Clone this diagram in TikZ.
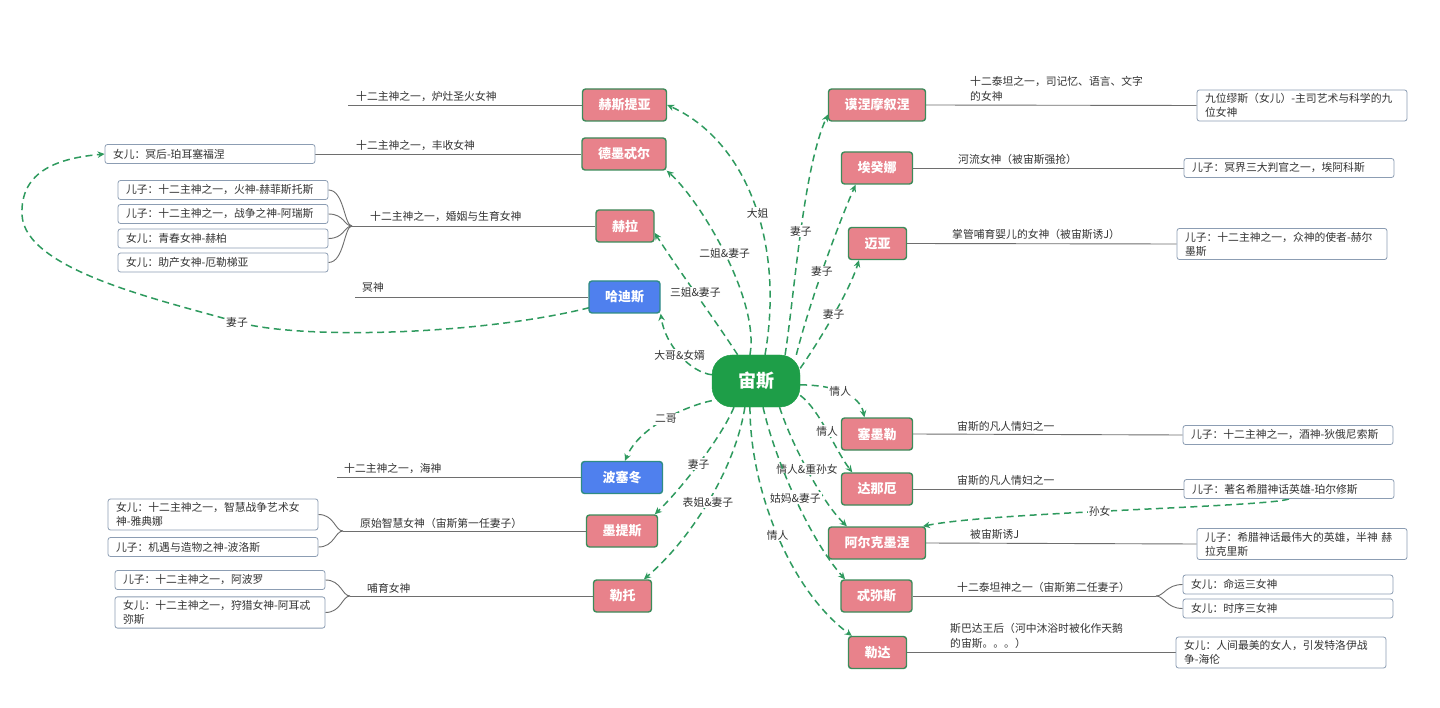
\documentclass[tikz,border=0pt]{standalone}
\usepackage{fontspec}
\setmainfont{Noto Sans CJK SC}
\usetikzlibrary{arrows.meta,calc,backgrounds}
\definecolor{pinkfill}{HTML}{E8828B}
\definecolor{boxgreen}{HTML}{3D8B5A}
\definecolor{bluefill}{HTML}{4F80EE}
\definecolor{blueborder}{HTML}{2F8C84}
\definecolor{zeusgreen}{HTML}{1E9E48}
\definecolor{arrowgreen}{HTML}{2E9A5E}
\definecolor{childborder}{HTML}{8C9DB3}
\definecolor{linegray}{HTML}{6E6E6E}
\definecolor{textgray}{HTML}{333333}
\tikzset{
 mainbox/.style={draw=boxgreen, line width=1.4pt, fill=pinkfill, rounded corners=3pt, minimum height=32pt, inner xsep=16pt, inner ysep=0pt, text=white, font=\bfseries\fontsize{13}{13}\selectfont},
 bluebox/.style={mainbox, fill=bluefill, draw=blueborder},
 zeusbox/.style={fill=zeusgreen, draw=zeusgreen, rounded corners=20pt, minimum width=88pt, minimum height=52pt, text=white, font=\bfseries\fontsize{18}{18}\selectfont},
 childbox/.style={draw=childborder, line width=0.8pt, fill=white, rounded corners=2.5pt, text width=194pt, inner xsep=8pt, inner ysep=3.5pt, minimum height=19pt, align=left, text=textgray, font=\fontsize{10.8}{14}\selectfont},
 desc/.style={inner sep=0pt, text=textgray, font=\fontsize{10.8}{15}\selectfont, align=left},
 lbl/.style={fill=white, inner sep=1pt, text=textgray, font=\fontsize{10.8}{12}\selectfont},
 rel/.style={draw=arrowgreen, line width=1.5pt, dash pattern=on 7pt off 4.5pt, -{Stealth[length=7pt,width=6.5pt]}},
 hline/.style={draw=linegray, line width=0.9pt},
}
\begin{document}
\begin{tikzpicture}[x=1pt,y=-1pt]
\useasboundingbox (0,0) rectangle (1440,708);
% ---------- main nodes
\node[zeusbox] (zeus) at (756,381) {宙斯};
\node[mainbox] (hestia) at (624.5,105) {赫斯提亚};
\node[mainbox] (demeter) at (624,154) {德墨忒尔};
\node[mainbox] (hera) at (625,226) {赫拉};
\node[bluebox] (hades) at (624.5,297) {哈迪斯};
\node[bluebox, minimum width=81pt] (poseidon) at (622,477.5) {波塞冬};
\node[mainbox] (metis) at (622,531) {墨提斯};
\node[mainbox] (leto) at (622.5,596) {勒托};
\node[mainbox] (mnemo) at (877,105) {谟涅摩叙涅};
\node[mainbox] (aegina) at (877,168) {埃癸娜};
\node[mainbox] (maia) at (877.5,243.5) {迈亚};
\node[mainbox] (semele) at (877,434) {塞墨勒};
\node[mainbox] (danae) at (877,489) {达那厄};
\node[mainbox] (alcmene) at (877,543) {阿尔克墨涅};
\node[mainbox] (themis) at (876.5,596) {忒弥斯};
\node[mainbox] (leda) at (877.5,652.5) {勒达};
% ---------- children (left)
\node[childbox] (persephone) at (210,154) {女儿：冥后-珀耳塞福涅};
\node[childbox] (heph) at (223,190) {儿子：十二主神之一，火神-赫菲斯托斯};
\node[childbox] (ares) at (223,214) {儿子：十二主神之一，战争之神-阿瑞斯};
\node[childbox] (hebe) at (223,238.5) {女儿：青春女神-赫柏};
\node[childbox] (eileithyia) at (223,262.5) {女儿：助产女神-厄勒梯亚};
\node[childbox] (athena) at (213,514.5) {女儿：十二主神之一，智慧战争艺术女\\神-雅典娜};
\node[childbox] (poros) at (213,547) {儿子：机遇与造物之神-波洛斯};
\node[childbox] (apollo) at (220,580) {儿子：十二主神之一，阿波罗};
\node[childbox] (artemis) at (220,612.5) {女儿：十二主神之一，狩猎女神-阿耳忒\\弥斯};
% ---------- children (right)
\node[childbox] (muses) at (1302,105.5) {九位缪斯（女儿）-主司艺术与科学的九\\位女神};
\node[childbox] (aeacus) at (1289,168) {儿子：冥界三大判官之一，埃阿科斯};
\node[childbox] (hermes) at (1282,244) {儿子：十二主神之一，众神的使者-赫尔\\墨斯};
\node[childbox] (dionysus) at (1288,435) {儿子：十二主神之一，酒神-狄俄尼索斯};
\node[childbox] (perseus) at (1289,489) {儿子：著名希腊神话英雄-珀尔修斯};
\node[childbox] (heracles) at (1302,544) {儿子：希腊神话最伟大的英雄，半神 赫\\拉克里斯};
\node[childbox] (moirai) at (1288,584.5) {女儿：命运三女神};
\node[childbox] (horae) at (1288,608.5) {女儿：时序三女神};
\node[childbox] (helen) at (1281,652.5) {女儿：人间最美的女人，引发特洛伊战\\争-海伦};
% ---------- descriptions
\node[desc, anchor=base west] (hestiaT) at (356,101) {十二主神之一，炉灶圣火女神};
\node[desc, anchor=base west] (demeterT) at (356,150) {十二主神之一，丰收女神};
\node[desc, anchor=base west] (heraT) at (370,221) {十二主神之一，婚姻与生育女神};
\node[desc, anchor=base west] (hadesT) at (362,292) {冥神};
\node[desc, anchor=base west] (poseidonT) at (344,472) {十二主神之一，海神};
\node[desc, anchor=base west] (metisT) at (360,527) {原始智慧女神（宙斯第一任妻子）};
\node[desc, anchor=base west] (letoT) at (367,592) {哺育女神};
\node[desc, anchor=south west] (mnemoT) at (970,102) {十二泰坦之一，司记忆、语言、文字\\的女神};
\node[desc, anchor=base west] (aeginaT) at (958,164) {河流女神（被宙斯强抢）};
\node[desc, anchor=base west] (maiaT) at (952,239) {掌管哺育婴儿的女神（被宙斯诱J）};
\node[desc, anchor=base west] (semeleT) at (957,430) {宙斯的凡人情妇之一};
\node[desc, anchor=base west] (danaeT) at (957,484) {宙斯的凡人情妇之一};
\node[desc, anchor=base west] (alcmeneT) at (970,538) {被宙斯诱J};
\node[desc, anchor=base west] (themisT) at (957,591) {十二泰坦神之一（宙斯第二任妻子）};
\node[desc, anchor=south west] (ledaT) at (950,649) {斯巴达王后（河中沐浴时被化作天鹅\\的宙斯。。。）};
% ---------- free ends / branch points
\coordinate (hestiaL) at (348,105);
\coordinate (heraB) at (352,226);
\coordinate (hadesL) at (355,297);
\coordinate (poseidonL) at (337,477.5);
\coordinate (metisB) at (343,531);
\coordinate (letoB) at (350,596);
\coordinate (themisB) at (1156,596);
% ---------- connectors
\begin{scope}[on background layer]
\fill[white] (0,0) rectangle (1440,708);
\draw[hline] (hestiaL) -- (hestia.west);
\draw[hline] (persephone.east) -- (demeter.west);
\draw[hline] (heraB) -- (hera.west);
\foreach \c in {heph,ares,hebe,eileithyia}
  \draw[hline] (\c.east) .. controls +(16,0) and +(-8,0) .. (heraB);
\draw[hline] (hadesL) -- (hades.west);
\draw[hline] (poseidonL) -- (poseidon.west);
\draw[hline] (metisB) -- (metis.west);
\foreach \c in {athena,poros}
  \draw[hline] (\c.east) .. controls +(16,0) and +(-8,0) .. (metisB);
\draw[hline] (letoB) -- (leto.west);
\foreach \c in {apollo,artemis}
  \draw[hline] (\c.east) .. controls +(16,0) and +(-8,0) .. (letoB);
\draw[hline] (mnemo.east) -- (muses.west);
\draw[hline] (aegina.east) -- (aeacus.west);
\draw[hline] (maia.east) -- (hermes.west);
\draw[hline] (semele.east) -- (dionysus.west);
\draw[hline] (danae.east) -- (perseus.west);
\draw[hline] (alcmene.east) -- (heracles.west);
\draw[hline] (themis.east) -- (themisB);
\foreach \c in {moirai,horae}
  \draw[hline] (themisB) .. controls +(8,0) and +(-16,0) .. (\c.west);
\draw[hline] (leda.east) -- (helen.west);
% dashed relations
\draw[rel] (zeus.71) .. controls (785,240) and (745,140) .. node[lbl,pos=0.45] (l1) {大姐} (hestia.east);
\draw[rel] (zeus.103) .. controls (760,300) and (700,200) .. node[lbl,pos=0.5] (l2) {二姐\&妻子} (demeter.south east);
\draw[rel] (zeus.125) .. controls (715,320) and (675,265) .. node[lbl,pos=0.5] (l3) {三姐\&妻子} (hera.-13);
\draw[rel] (zeus.172) .. controls (690,372) and (665,345) .. node[lbl,pos=0.5] (l4) {大哥\&女婿} (hades.south east);
\draw[rel] (zeus.42) .. controls (795,290) and (803,170) .. node[lbl,pos=0.5] (l5) {妻子} (mnemo.191);
\draw[rel] (zeus.33) .. controls (810,300) and (840,220) .. node[lbl,pos=0.45] (l6) {妻子} (aegina.218);
\draw[rel] (zeus.16) .. controls (820,340) and (850,290) .. node[lbl,pos=0.5] (l7) {妻子} (maia.222);
\draw[rel] (zeus.-5) .. controls (835,385) and (860,395) .. node[lbl,pos=0.45] (l8) {情人} (semele.127);
\draw[rel] (zeus.-18) .. controls (820,410) and (835,450) .. node[lbl,pos=0.5] (l9) {情人} (danae.146);
\draw[rel] (zeus.-48) .. controls (790,440) and (820,500) .. node[lbl,pos=0.5] (l10) {情人\&重孙女} (alcmene.151);
\draw[rel] (zeus.-75) .. controls (775,460) and (810,540) .. node[lbl,pos=0.5] (l11) {姑妈\&妻子} (themis.152);
\draw[rel] (zeus.-103) .. controls (750,490) and (790,590) .. node[lbl,pos=0.5] (l12) {情人} (leda.147);
\draw[rel] (zeus.204) .. controls (690,405) and (640,425) .. node[lbl,pos=0.5] (l13) {二哥} (poseidon.80);
\draw[rel] (zeus.230) .. controls (720,440) and (680,490) .. node[lbl,pos=0.5] (l14) {妻子} (metis.27);
\draw[rel] (zeus.247) .. controls (735,470) and (690,540) .. node[lbl,pos=0.5] (l15) {表姐\&妻子} (leto.38);
\draw[rel] ($(hades.south west)+(1,-6)$) .. controls (480,335) and (300,340) .. (237,322) node[lbl] (l16) {妻子}
  .. controls (160,300) and (25,270) .. (22,215) .. controls (20,170) and (60,158) .. (persephone.west);
\draw[rel] (perseus.south) .. controls (1270,507) and (990,512) .. node[lbl,pos=0.55] (l17) {孙女} (alcmene.20);
\end{scope}
\end{tikzpicture}
\end{document}
